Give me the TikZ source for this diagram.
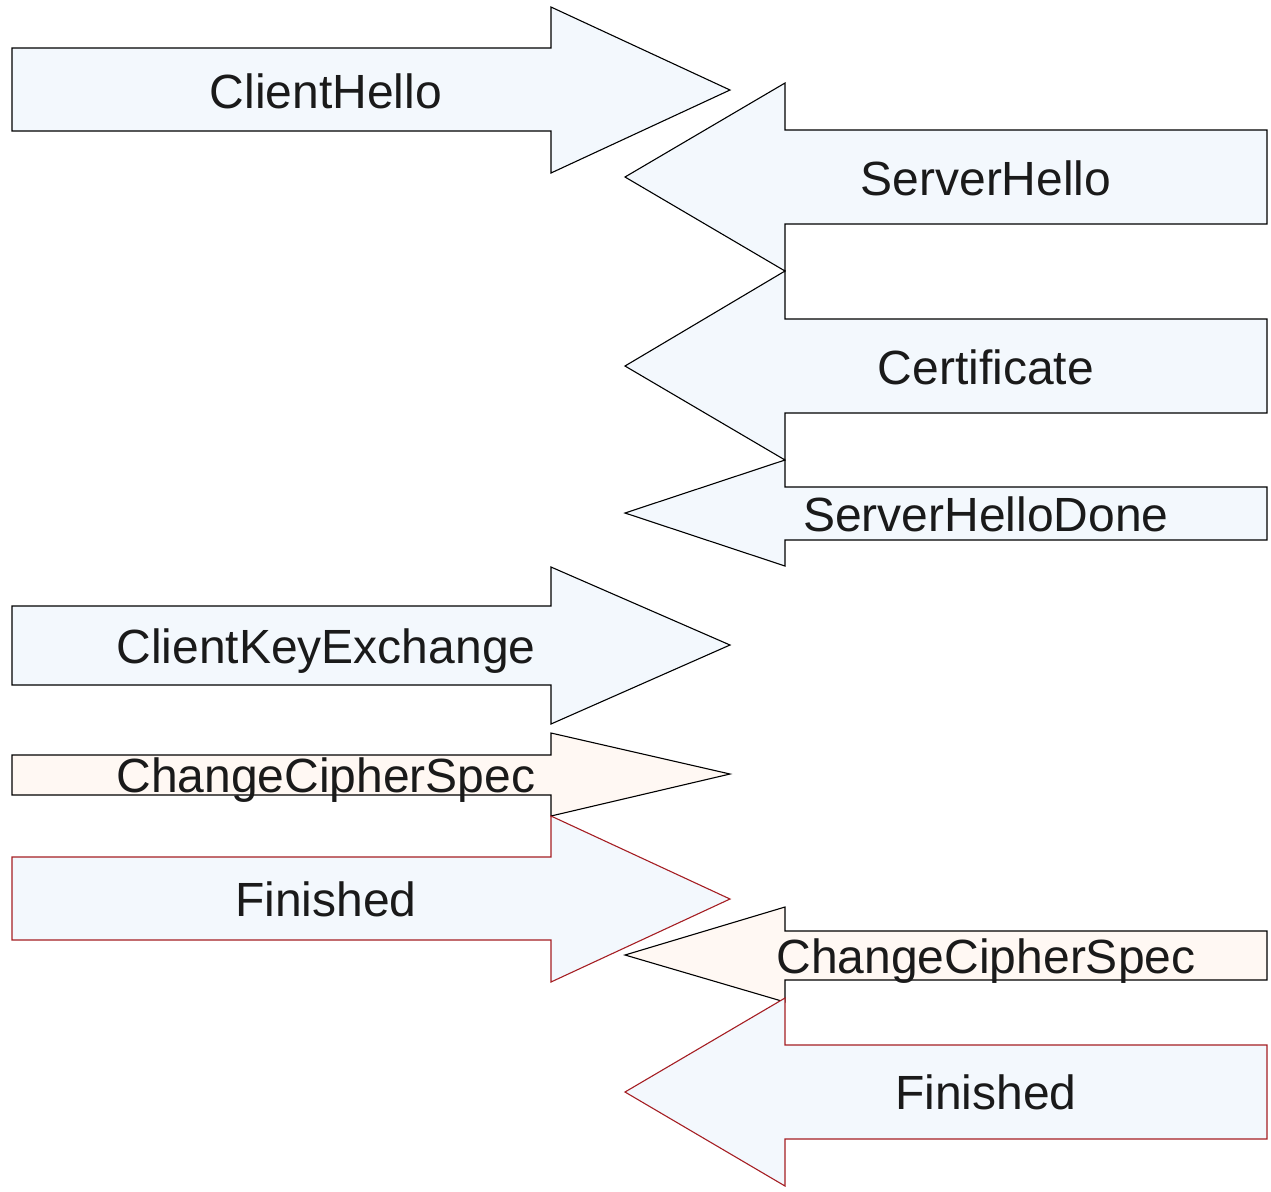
\documentclass[tikz,border=0pt]{standalone}
\usepackage{fontspec}
\setmainfont{Liberation Sans}
\definecolor{msgblue}{RGB}{243,248,253}
\definecolor{msgpeach}{RGB}{255,248,243}
\definecolor{msgred}{RGB}{165,30,35}
\definecolor{msgtext}{RGB}{26,26,26}
\tikzset{
  msgarrow/.style={draw=black,fill=msgblue,line width=0.55pt,line join=miter},
  msgspec/.style={msgarrow,fill=msgpeach},
  msgdone/.style={msgarrow,draw=msgred},
  msglabel/.style={font=\fontsize{24}{28}\selectfont,text=msgtext,inner sep=0pt,text depth=0pt}
}
\begin{document}
\begin{tikzpicture}[x=0.5pt,y=0.5pt,yscale=-1,xscale=1]
\useasboundingbox (0,0) rectangle (1271,1191);

%Shape: Right Arrow ClientHello
\draw [msgarrow] (12,48) -- (551,48) -- (551,7) -- (730,90) -- (551,173) -- (551,131) -- (12,131) -- cycle ;
%Shape: Left Arrow ServerHello
\draw [msgarrow] (1267,130) -- (785,130) -- (785,83) -- (625,177) -- (785,271) -- (785,224) -- (1267,224) -- cycle ;
%Shape: Left Arrow Certificate
\draw [msgarrow] (1267,319) -- (785,319) -- (785,271) -- (625,366) -- (785,460) -- (785,413) -- (1267,413) -- cycle ;
%Shape: Left Arrow ServerHelloDone
\draw [msgarrow] (1267,487) -- (785,487) -- (785,460) -- (625,513) -- (785,566) -- (785,540) -- (1267,540) -- cycle ;
%Shape: Right Arrow ClientKeyExchange
\draw [msgarrow] (12,606) -- (551,606) -- (551,567) -- (730,645) -- (551,724) -- (551,685) -- (12,685) -- cycle ;
%Shape: Right Arrow ChangeCipherSpec
\draw [msgspec] (12,755) -- (551,755) -- (551,733) -- (730,774) -- (551,816) -- (551,795) -- (12,795) -- cycle ;
%Shape: Right Arrow Finished
\draw [msgdone] (12,857) -- (551,857) -- (551,816) -- (730,899) -- (551,982) -- (551,940) -- (12,940) -- cycle ;
%Shape: Left Arrow ChangeCipherSpec
\draw [msgspec] (1267,931) -- (785,931) -- (785,907) -- (625,955) -- (785,1002) -- (785,980) -- (1267,980) -- cycle ;
%Shape: Left Arrow Finished
\draw [msgdone] (1267,1045) -- (785,1045) -- (785,998) -- (625,1092) -- (785,1186) -- (785,1139) -- (1267,1139) -- cycle ;

% Text Node
\node [msglabel] (clienthello) at (326,91) {ClientHello};
% Text Node
\node [msglabel] (serverhello) at (986,178) {ServerHello};
% Text Node
\node [msglabel] (certificate) at (986,367) {Certificate};
% Text Node
\node [msglabel] (serverdone) at (986,514) {ServerHelloDone};
% Text Node
\node [msglabel] (keyexchange) at (326,646) {ClientKeyExchange};
% Text Node
\node [msglabel] (clientspec) at (326,775) {ChangeCipherSpec};
% Text Node
\node [msglabel] (clientfinished) at (326,899) {Finished};
% Text Node
\node [msglabel] (serverspec) at (986,956) {ChangeCipherSpec};
% Text Node
\node [msglabel] (serverfinished) at (986,1092) {Finished};

\end{tikzpicture}
\end{document}
